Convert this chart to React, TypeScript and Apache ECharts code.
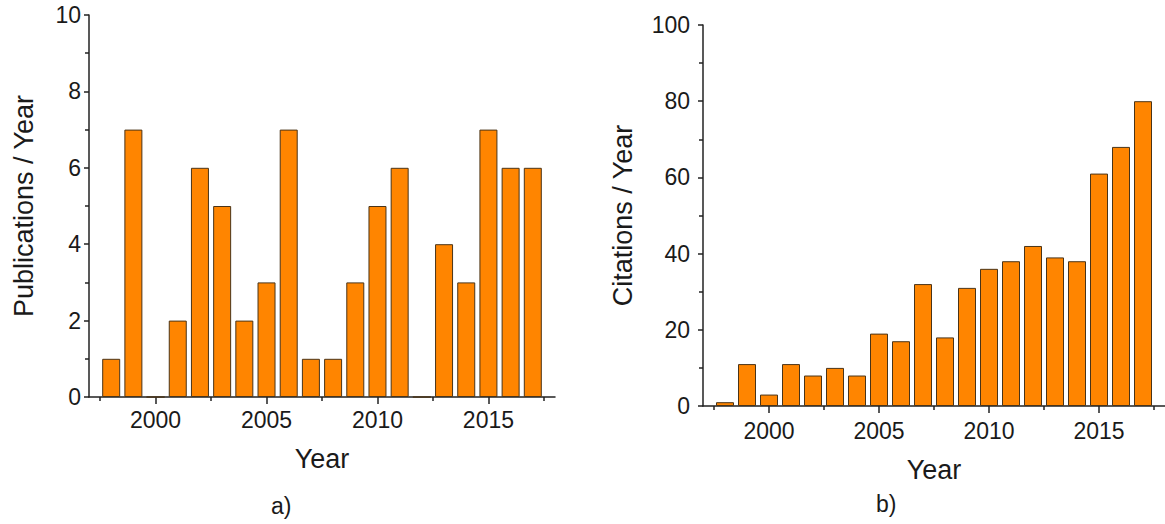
import React, { useEffect, useRef } from "react";
import * as echarts from "echarts";

const years = [1998, 1999, 2000, 2001, 2002, 2003, 2004, 2005, 2006, 2007, 2008, 2009, 2010, 2011, 2012, 2013, 2014, 2015, 2016, 2017];
const publications = [1, 7, 0, 2, 6, 5, 2, 3, 7, 1, 1, 3, 5, 6, 0, 4, 3, 7, 6, 6];
const citations = [1, 11, 3, 11, 8, 10, 8, 19, 17, 32, 18, 31, 36, 38, 42, 39, 38, 61, 68, 80];
const majorYearTicks = [2000, 2005, 2010, 2015];
const minorYearTicks = [1997.5, 2002.5, 2007.5, 2012.5, 2017.5];
const captions = ["a)", "b)"];

const FONT = "Liberation Sans, Arial, sans-serif";
const AXIS_COLOR = "#222";
const TEXT_COLOR = "#1a1a1a";

export default function App() {
  const ref = useRef<HTMLDivElement>(null);
  useEffect(() => {
    if (!ref.current) return;
    const chart = echarts.init(ref.current, null, { renderer: "svg" });

    const xMain = (gridIndex: number, nameGap: number, labelMargin: number) => ({
      type: "value",
      gridIndex,
      min: 1997,
      max: 2018,
      name: "Year",
      nameLocation: "middle",
      nameGap,
      nameTextStyle: { fontSize: 27, fontFamily: FONT, color: TEXT_COLOR },
      axisLine: { show: true, onZero: false, lineStyle: { color: AXIS_COLOR, width: 1.5 } },
      axisTick: { show: true, inside: false, length: 7, customValues: majorYearTicks, lineStyle: { color: AXIS_COLOR, width: 1.5 } },
      axisLabel: {
        customValues: majorYearTicks,
        formatter: (v: number) => String(v),
        fontSize: 23,
        fontFamily: FONT,
        color: TEXT_COLOR,
        margin: labelMargin,
      },
      splitLine: { show: false },
    });
    const xMinor = (gridIndex: number) => ({
      type: "value",
      gridIndex,
      min: 1997,
      max: 2018,
      position: "bottom",
      axisLine: { show: false },
      axisTick: { show: true, inside: false, length: 4, customValues: minorYearTicks, lineStyle: { color: AXIS_COLOR, width: 1.5 } },
      axisLabel: { show: false },
      splitLine: { show: false },
    });
    const yAxis = (gridIndex: number, max: number, interval: number, name: string, nameGap: number, labelMargin: number) => ({
      type: "value",
      gridIndex,
      min: 0,
      max,
      interval,
      name,
      nameLocation: "middle",
      nameGap,
      nameTextStyle: { fontSize: 27, fontFamily: FONT, color: TEXT_COLOR },
      axisLine: { show: true, lineStyle: { color: AXIS_COLOR, width: 1.5 } },
      axisTick: { show: true, inside: false, length: 5, lineStyle: { color: AXIS_COLOR, width: 1.5 } },
      minorTick: { show: true, splitNumber: 2, length: 4, lineStyle: { color: AXIS_COLOR, width: 1.5 } },
      axisLabel: { fontSize: 23, fontFamily: FONT, color: TEXT_COLOR, margin: labelMargin },
      splitLine: { show: false },
      minorSplitLine: { show: false },
    });

    const barStyle = { color: "#FF8500", borderColor: "#4a3418", borderWidth: 1 };

    chart.setOption({
      animation: false,
      backgroundColor: "#ffffff",
      grid: [
        { left: 89, top: 15, width: 466, height: 382 },
        { left: 703, top: 25, width: 466, height: 381 },
      ],
      xAxis: [xMain(0, 48, 11), xMinor(0), xMain(1, 50, 13), xMinor(1)],
      yAxis: [
        yAxis(0, 10, 2, "Publications / Year", 52, 8),
        yAxis(1, 100, 20, "Citations / Year", 67, 13),
      ],
      series: [
        {
          type: "bar",
          xAxisIndex: 0,
          yAxisIndex: 0,
          barWidth: 18,
          data: years.map((y, i) => [y, publications[i]]),
          itemStyle: barStyle,
        },
        {
          type: "bar",
          xAxisIndex: 2,
          yAxisIndex: 1,
          barWidth: 18,
          data: years.map((y, i) => [y, citations[i]]),
          itemStyle: barStyle,
        },
      ],
      graphic: [
        { type: "text", left: 271, top: 494, style: { text: captions[0], fontSize: 23, fontFamily: FONT, fill: TEXT_COLOR } },
        { type: "text", left: 876, top: 492, style: { text: captions[1], fontSize: 23, fontFamily: FONT, fill: TEXT_COLOR } },
      ],
    });
    return () => chart.dispose();
  }, []);
  return <div ref={ref} style={{ position: "fixed", left: 0, top: 0, width: 1165, height: 524 }} />;
}
